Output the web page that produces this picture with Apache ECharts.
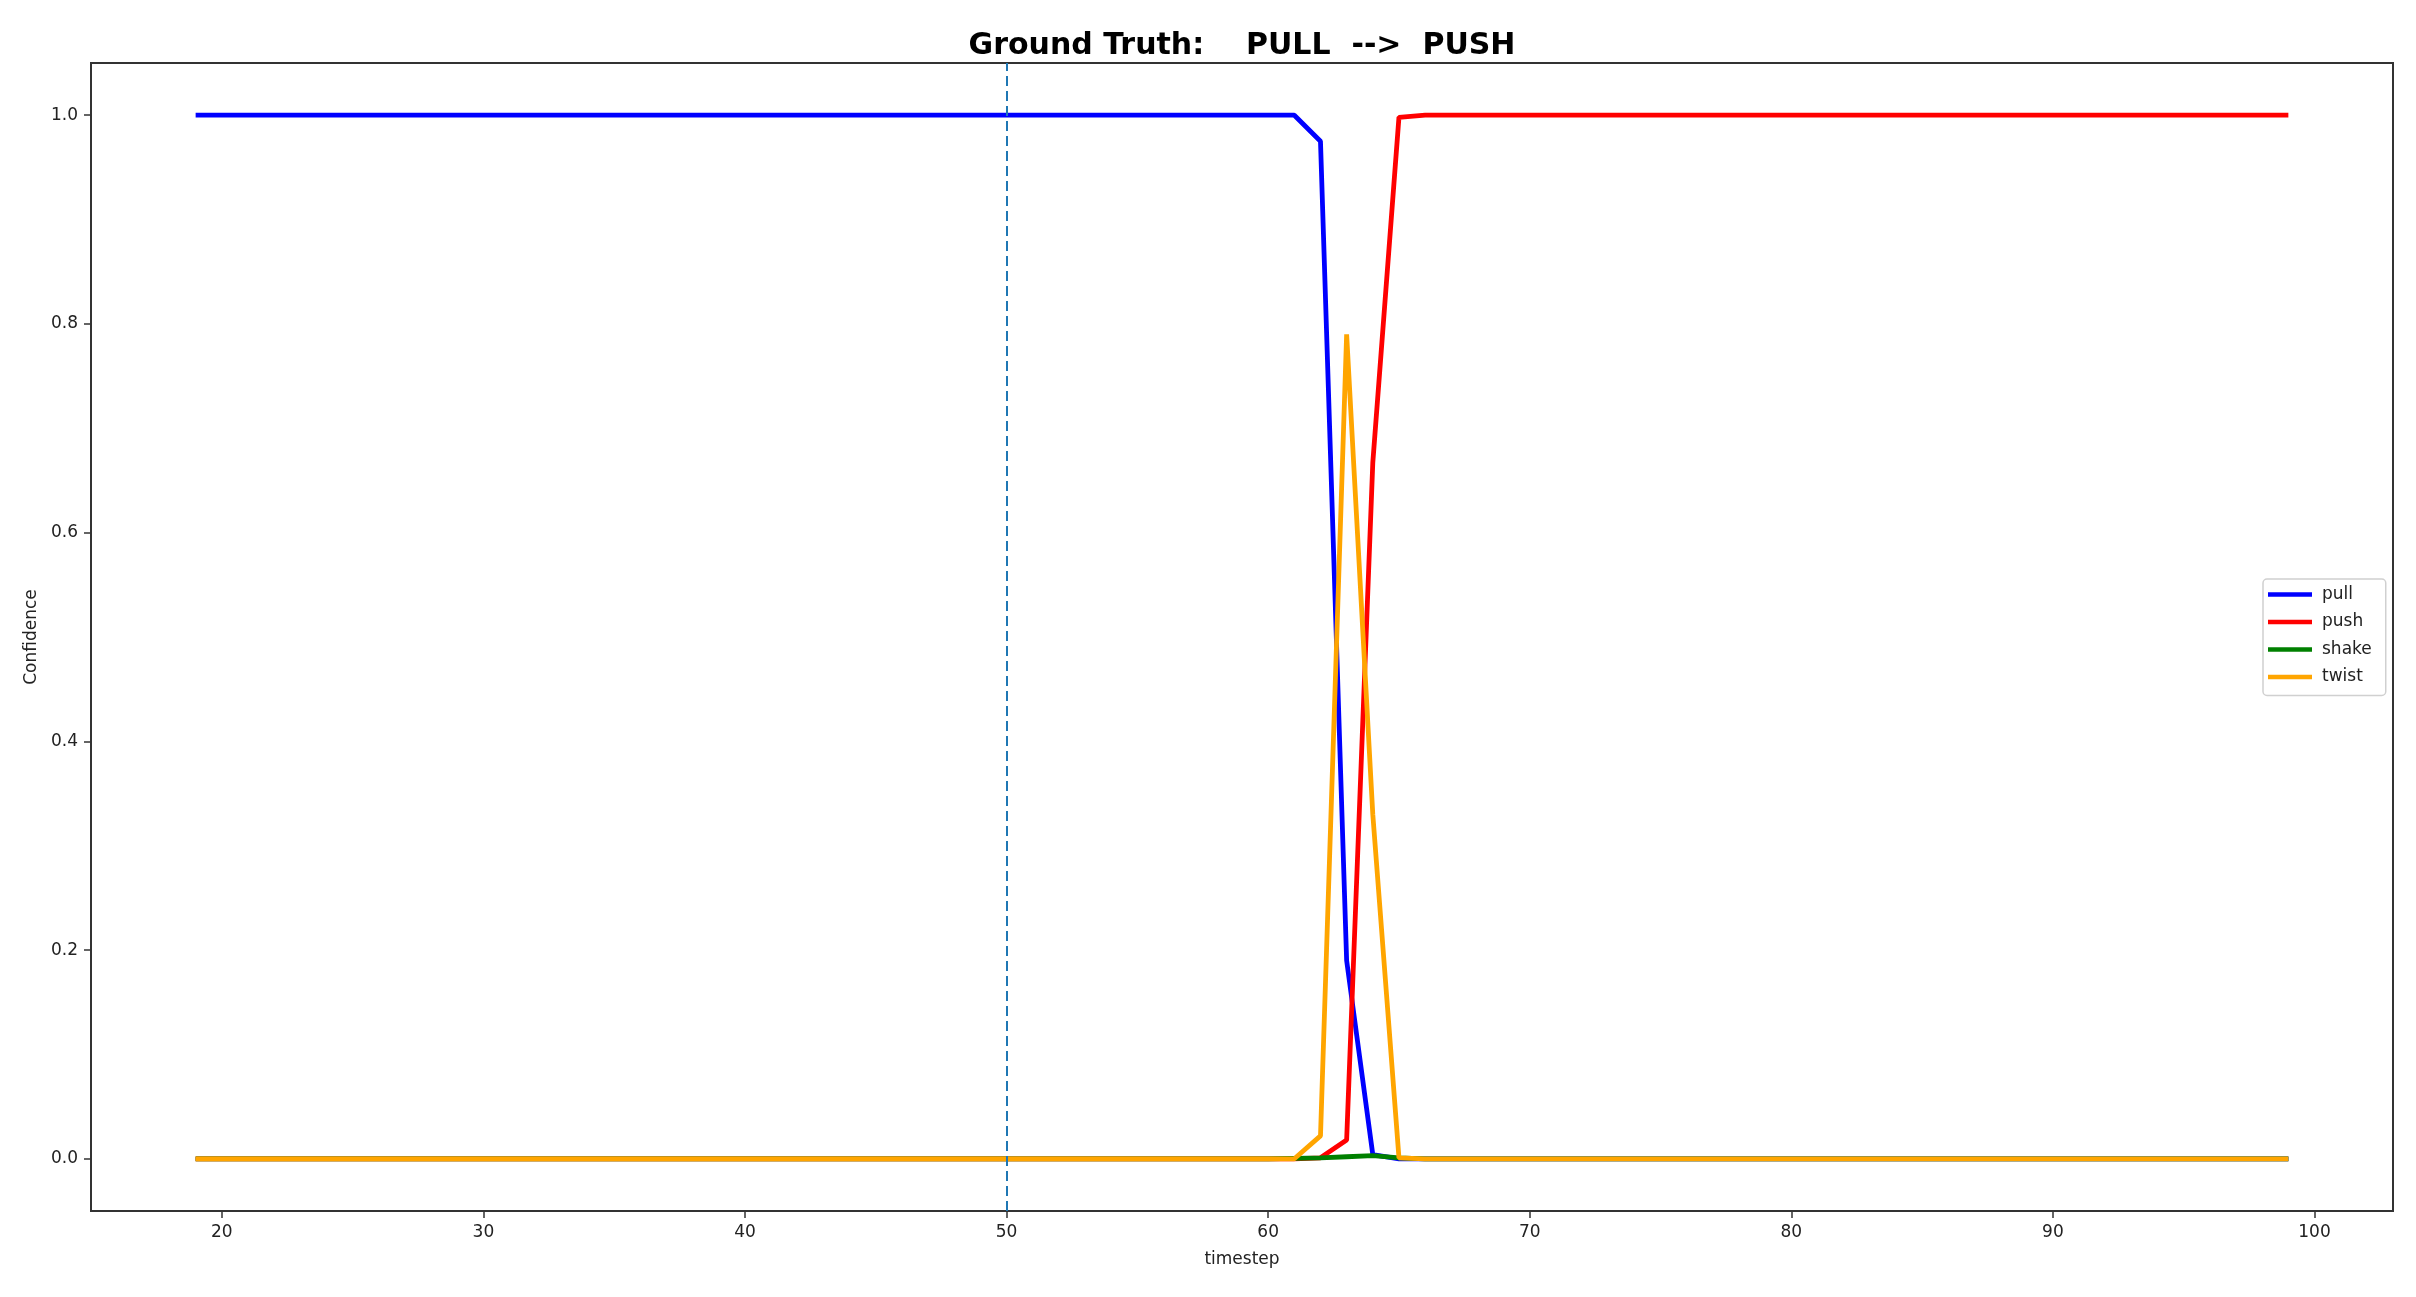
<!DOCTYPE html>
<html>
<head>
<meta charset="utf-8">
<script src="https://cdn.jsdelivr.net/npm/echarts@6/dist/echarts.min.js"></script>
<style>
  html, body { margin: 0; padding: 0; background: #fff; }
  #line { width: 2416px; height: 1297px; }
</style>
</head>
<body>
<div id="line"></div>
<script>
// timesteps shown on the x axis
var timesteps = [
    19, 20, 21, 22, 23, 24, 25, 26, 27, 28,
    29, 30, 31, 32, 33, 34, 35, 36, 37, 38,
    39, 40, 41, 42, 43, 44, 45, 46, 47, 48,
    49, 50, 51, 52, 53, 54, 55, 56, 57, 58,
    59, 60, 61, 62, 63, 64, 65, 66, 67, 68,
    69, 70, 71, 72, 73, 74, 75, 76, 77, 78,
    79, 80, 81, 82, 83, 84, 85, 86, 87, 88,
    89, 90, 91, 92, 93, 94, 95, 96, 97, 98,
    99
];
var pull = [
    1, 1, 1, 1, 1, 1, 1, 1, 1, 1,
    1, 1, 1, 1, 1, 1, 1, 1, 1, 1,
    1, 1, 1, 1, 1, 1, 1, 1, 1, 1,
    1, 1, 1, 1, 1, 1, 1, 1, 1, 1,
    1, 1, 1, 0.975, 0.19, 0.004, 0, 0, 0, 0,
    0, 0, 0, 0, 0, 0, 0, 0, 0, 0,
    0, 0, 0, 0, 0, 0, 0, 0, 0, 0,
    0, 0, 0, 0, 0, 0, 0, 0, 0, 0,
    0
];
var push = [
    0, 0, 0, 0, 0, 0, 0, 0, 0, 0,
    0, 0, 0, 0, 0, 0, 0, 0, 0, 0,
    0, 0, 0, 0, 0, 0, 0, 0, 0, 0,
    0, 0, 0, 0, 0, 0, 0, 0, 0, 0,
    0, 0, 0, 0.001, 0.018, 0.667, 0.998, 1, 1, 1,
    1, 1, 1, 1, 1, 1, 1, 1, 1, 1,
    1, 1, 1, 1, 1, 1, 1, 1, 1, 1,
    1, 1, 1, 1, 1, 1, 1, 1, 1, 1,
    1
];
var shake = [
    0, 0, 0, 0, 0, 0, 0, 0, 0, 0,
    0, 0, 0, 0, 0, 0, 0, 0, 0, 0,
    0, 0, 0, 0, 0, 0, 0, 0, 0, 0,
    0, 0, 0, 0, 0, 0, 0, 0, 0, 0,
    0, 0, 0.0005, 0.001, 0.002, 0.003, 0.001, 0, 0, 0,
    0, 0, 0, 0, 0, 0, 0, 0, 0, 0,
    0, 0, 0, 0, 0, 0, 0, 0, 0, 0,
    0, 0, 0, 0, 0, 0, 0, 0, 0, 0,
    0
];
var twist = [
    0, 0, 0, 0, 0, 0, 0, 0, 0, 0,
    0, 0, 0, 0, 0, 0, 0, 0, 0, 0,
    0, 0, 0, 0, 0, 0, 0, 0, 0, 0,
    0, 0, 0, 0, 0, 0, 0, 0, 0, 0,
    0, 0, 0, 0.022, 0.79, 0.33, 0.001, 0, 0, 0,
    0, 0, 0, 0, 0, 0, 0, 0, 0, 0,
    0, 0, 0, 0, 0, 0, 0, 0, 0, 0,
    0, 0, 0, 0, 0, 0, 0, 0, 0, 0,
    0
];
var xTicks = [20, 30, 40, 50, 60, 70, 80, 90, 100];
var yTicks = [0, 0.2, 0.4, 0.6, 0.8, 1.0];
var switchStep = 50;

function pairs(values) {
    return timesteps.map(function (t, i) { return [t, values[i]]; });
}

var font = 'DejaVu Sans';
var myChart = echarts.init(document.getElementById('line'));

function lineSeries(name, color, values) {
    return {
        name: name,
        type: 'line',
        data: pairs(values),
        symbol: 'none',
        color: color,
        lineStyle: { color: color, width: 4.8 },
        animation: false
    };
}

var series = [
    lineSeries('pull', '#0000ff', pull),
    lineSeries('push', '#ff0000', push),
    lineSeries('shake', '#008000', shake),
    lineSeries('twist', '#ffa500', twist)
];
// 真值切换位置的虚线
series[0].markLine = {
    silent: true,
    symbol: 'none',
    label: { show: false },
    lineStyle: { color: '#1f77b4', type: [10, 5], width: 2 },
    data: [{ xAxis: switchStep }]
};

myChart.setOption({
    animation: false,
    backgroundColor: '#fff',
    title: {
        text: 'Ground Truth:    PULL  -->  PUSH',
        left: 1242,
        textAlign: 'center',
        top: 31,
        padding: 0,
        textStyle: { fontFamily: font, fontWeight: 'bold', fontSize: 30, color: '#000' }
    },
    legend: {
        orient: 'vertical',
        left: 2263,
        top: 579,
        padding: [7, 14, 10, 5],
        itemGap: 10.5,
        itemWidth: 44,
        itemHeight: 4.5,
        icon: 'rect',
        backgroundColor: '#fff',
        borderColor: '#d0d0d0',
        borderWidth: 1.5,
        borderRadius: 4,
        textStyle: { fontFamily: font, fontSize: 17, color: '#222', padding: [0, 0, 0, 5] },
        data: ['pull', 'push', 'shake', 'twist']
    },
    grid: {
        left: 91, right: 23, top: 63, bottom: 86,
        show: true,
        borderColor: '#333',
        borderWidth: 2,
        containLabel: false
    },
    xAxis: {
        type: 'value',
        min: 15,
        max: 103,
        name: 'timestep',
        nameLocation: 'middle',
        nameGap: 40,
        nameTextStyle: { fontFamily: font, fontSize: 17, color: '#222' },
        axisLine: { show: false, onZero: false },
        splitLine: { show: false },
        axisTick: {
            show: true, inside: false, length: 7,
            customValues: xTicks,
            lineStyle: { color: '#333', width: 1.5 }
        },
        axisLabel: {
            customValues: xTicks,
            margin: 13,
            fontFamily: font, fontSize: 17, color: '#222'
        }
    },
    yAxis: {
        type: 'value',
        min: -0.05,
        max: 1.05,
        name: 'Confidence',
        nameLocation: 'middle',
        nameRotate: 90,
        nameGap: 51,
        nameTextStyle: { fontFamily: font, fontSize: 17, color: '#222' },
        axisLine: { show: false, onZero: false },
        splitLine: { show: false },
        axisTick: {
            show: true, inside: false, length: 7,
            customValues: yTicks,
            lineStyle: { color: '#333', width: 1.5 }
        },
        axisLabel: {
            customValues: yTicks,
            margin: 13,
            fontFamily: font, fontSize: 17, color: '#222',
            formatter: function (v) { return v.toFixed(1); }
        }
    },
    series: series
});
</script>
</body>
</html>
